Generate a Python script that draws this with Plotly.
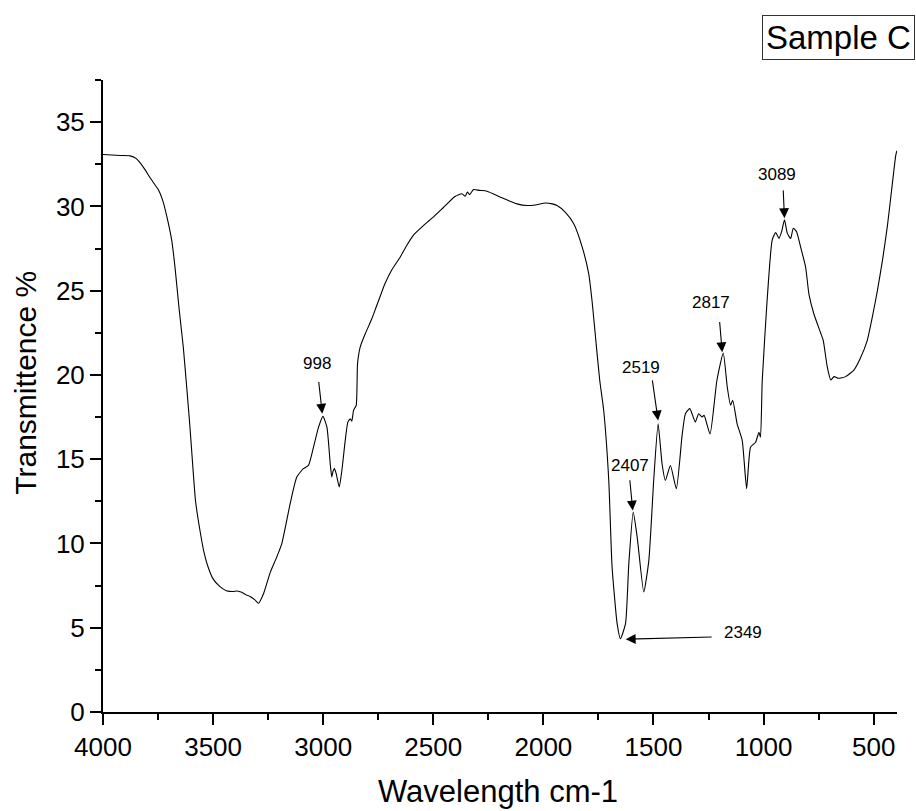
import plotly.graph_objects as go

# ---- spectrum data (wavenumber, transmittance %) ----
wavenumber = [4000, 3960, 3920, 3877, 3850, 3832, 3810, 3786, 3765, 3749, 3730, 3710, 3688, 3673,
              3655, 3635, 3620, 3605, 3580, 3560, 3540, 3520, 3500, 3470, 3440, 3410, 3390, 3370,
              3350, 3332, 3310, 3294, 3271, 3240, 3211, 3188, 3150, 3120, 3090, 3067, 3044, 3021,
              3001, 2983, 2968, 2961, 2955, 2949, 2941, 2927, 2915, 2900, 2888, 2877, 2870, 2862,
              2850, 2844, 2832, 2809, 2780, 2760, 2720, 2690, 2650, 2620, 2590, 2550, 2506, 2453,
              2400, 2370, 2355, 2345, 2335, 2317, 2290, 2256, 2195, 2160, 2120, 2074, 2030, 1991,
              1960, 1938, 1900, 1862, 1824, 1794, 1779, 1760, 1744, 1726, 1703, 1688, 1665, 1650,
              1627, 1612, 1592, 1574, 1544, 1521, 1499, 1479, 1461, 1446, 1423, 1396, 1370, 1355,
              1335, 1310, 1295, 1280, 1270, 1243, 1212, 1183, 1165, 1150, 1140, 1120, 1097, 1077,
              1059, 1036, 1021, 1014, 1006, 984, 961, 945, 930, 918, 905, 892, 877, 865, 850, 832,
              809, 794, 771, 741, 729, 711, 695, 680, 660, 627, 589, 560, 529, 505, 483, 460, 438,
              420, 400, 395]
transmittance = [33.08, 33.05, 33.02, 33.0, 32.85, 32.6, 32.2, 31.7, 31.3, 31.0, 30.4, 29.4, 28.0, 26.4,
                 24.0, 21.6, 19.3, 16.9, 12.55, 10.8, 9.4, 8.5, 7.9, 7.45, 7.2, 7.15, 7.18, 7.1,
                 6.95, 6.85, 6.65, 6.45, 7.02, 8.3, 9.19, 9.99, 12.36, 13.94, 14.44, 14.63, 15.72, 16.9,
                 17.54, 16.9, 14.73, 13.94, 14.3, 14.44, 14.14, 13.35, 14.34, 16.1, 17.2, 17.4, 17.26, 17.9,
                 18.2, 20.66, 21.65, 22.44, 23.3, 24.0, 25.4, 26.2, 27.0, 27.7, 28.3, 28.8, 29.3, 29.95,
                 30.6, 30.75, 30.6, 30.85, 30.7, 31.0, 30.95, 30.9, 30.55, 30.35, 30.15, 30.05, 30.1, 30.2,
                 30.15, 30.05, 29.65, 28.97, 27.6, 26.0, 24.4, 21.8, 19.67, 17.89, 13.74, 8.6, 5.24, 4.35,
                 5.24, 8.8, 11.86, 10.38, 7.12, 9.0, 13.74, 17.1, 14.73, 13.74, 14.63, 13.25, 16.41, 17.7,
                 18.0, 17.2, 17.7, 17.5, 17.6, 16.5, 19.67, 21.3, 19.3, 18.2, 18.5, 17.1, 16.12, 13.25,
                 15.72, 16.01, 16.6, 16.3, 19.67, 24.4, 28.0, 28.45, 28.1, 28.5, 29.2, 28.4, 28.1, 28.7, 28.5, 27.6,
                 26.4, 24.8, 23.6, 22.5, 22.05, 20.5, 19.7, 19.9, 19.8, 19.9, 20.3, 21.0, 22.05, 23.5, 25.0, 26.8, 28.8,
                 30.8, 33.0, 33.3]

# ---- peak labels: text, label position, arrow tail, arrow tip (data coords) ----
peak_labels = ["998", "2407", "2349", "2519", "2817", "3089"]
label_x = [3029, 1608, 1092, 1556, 1238, 941]
label_y = [20.66, 14.63, 4.71, 20.43, 24.32, 31.89]
tail_x = [3021, 1608, 1229, 1506, 1200, 911]
tail_y = [19.67, 13.84, 4.45, 19.77, 23.23, 31.04]
tip_x = [3004, 1594, 1626, 1479, 1188, 905]
tip_y = [17.7, 11.95, 4.32, 17.3, 21.35, 29.3]

FONT = "Liberation Sans, Arial, sans-serif"

fig = go.Figure()
fig.add_trace(go.Scatter(x=wavenumber, y=transmittance, mode="lines",
                         line=dict(color="black", width=1.1, shape="spline", smoothing=0.5),
                         showlegend=False))

annotations = []
for t, lx, ly, ax_, ay_, px, py in zip(peak_labels, label_x, label_y, tail_x, tail_y, tip_x, tip_y):
    annotations.append(dict(x=lx, y=ly, xref="x", yref="y", text=t, showarrow=False,
                            font=dict(family=FONT, size=17, color="black")))
    annotations.append(dict(x=px, y=py, xref="x", yref="y", ax=ax_, ay=ay_, axref="x", ayref="y",
                            text="", showarrow=True, arrowhead=2, arrowsize=1.8, arrowwidth=1.1,
                            arrowcolor="black"))

annotations.append(dict(x=0.830, y=1.068, xref="paper", yref="paper", xanchor="left", yanchor="middle",
                        text="Sample C", showarrow=False, bordercolor="#333", borderwidth=1, borderpad=3,
                        font=dict(family=FONT, size=33, color="black")))
annotations.append(dict(x=0.497, y=-0.125, xref="paper", yref="paper", xanchor="center", yanchor="middle",
                        text="Wavelength cm-1", showarrow=False,
                        font=dict(family=FONT, size=31, color="black")))
annotations.append(dict(x=-0.097, y=0.521, xref="paper", yref="paper", xanchor="center", yanchor="middle",
                        text="Transmittence %", textangle=-90, showarrow=False,
                        font=dict(family=FONT, size=30, color="black")))

fig.update_layout(
    width=916, height=811,
    margin=dict(l=103, r=19, t=80, b=99),
    paper_bgcolor="white", plot_bgcolor="white",
    font=dict(family=FONT, color="black"),
    annotations=annotations,
)
fig.update_xaxes(range=[4000, 394], tick0=0, dtick=500, showgrid=False, zeroline=False,
                 showline=True, linewidth=2, linecolor="black",
                 ticks="outside", ticklen=11, tickwidth=2, tickcolor="black",
                 minor=dict(ticks="outside", ticklen=6, tickwidth=2, tickcolor="black", dtick=250, showgrid=False),
                 tickfont=dict(family=FONT, size=26, color="black"), automargin=False)
fig.update_yaxes(range=[0, 37.5], tick0=0, dtick=5, showgrid=False, zeroline=False,
                 showline=True, linewidth=2, linecolor="black",
                 ticks="outside", ticklen=11, tickwidth=2, tickcolor="black",
                 minor=dict(ticks="outside", ticklen=6, tickwidth=2, tickcolor="black", dtick=2.5, showgrid=False),
                 tickfont=dict(family=FONT, size=26, color="black"), automargin=False)

fig.write_html("out.html")
